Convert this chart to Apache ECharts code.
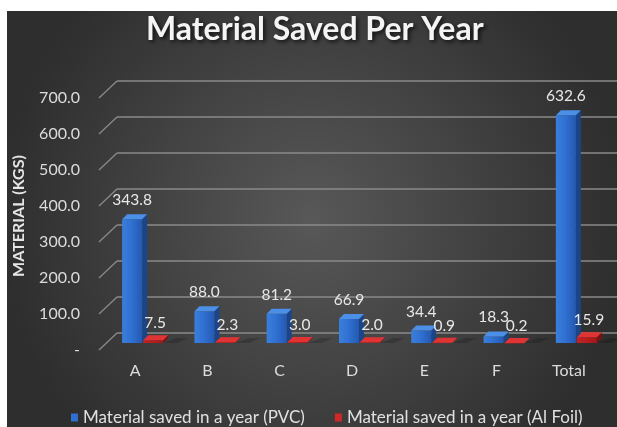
<!DOCTYPE html>
<html>
<head>
<meta charset="utf-8">
<script src="https://cdn.jsdelivr.net/npm/echarts@6/dist/echarts.min.js"></script>
<style>
html,body{margin:0;padding:0;background:#ffffff;}
#chart{width:617px;height:427px;}
</style>
</head>
<body>
<div id="chart"></div>
<script>
const categories = ['A', 'B', 'C', 'D', 'E', 'F', 'Total'];
const pvcValues = [343.8, 88.0, 81.2, 66.9, 34.4, 18.3, 632.6];
const foilValues = [7.5, 2.3, 3.0, 2.0, 0.9, 0.2, 15.9];
const yTicks = [0, 100, 200, 300, 400, 500, 600, 700];
const seriesNames = ['Material saved in a year (PVC)', 'Material saved in a year (Al Foil)'];

const FONT = 'Lato';
const WALL_DX = 18, WALL_DY = -17;   // front plane -> back wall
const BAR_DY = -7;                    // front plane -> bar plane
const DEPTH_DX = 5, DEPTH_DY = -5;    // bar depth

const chart = echarts.init(document.getElementById('chart'));

function makeBarRender(offset, colors, labelDx, labelDy) {
  return function (params, api) {
    const idx = api.value(0);
    const val = api.value(1);
    const base = api.coord([idx, 0]);
    const top = api.coord([idx, val]);
    const bw = api.size([1, 0])[0] * 0.277;
    const cx = base[0] + offset;
    const y0 = base[1] + BAR_DY;
    const y1 = top[1] + BAR_DY;
    const xl = cx - bw / 2, xr = cx + bw / 2;
    const children = [
      { type: 'polygon', shape: { points: [[xr + DEPTH_DX + 8, y0 + DEPTH_DY], [xr + DEPTH_DX + 20, y0 + DEPTH_DY], [xr + 14, y0], [xr, y0]] },
        style: { fill: 'rgba(0,0,0,0.18)' } },
      { type: 'polygon', shape: { points: [[xr, y1], [xr + DEPTH_DX, y1 + DEPTH_DY], [xr + DEPTH_DX, y0 + DEPTH_DY], [xr, y0]] },
        style: { fill: colors.side } },
      { type: 'rect', shape: { x: xl, y: y1, width: bw, height: Math.max(y0 - y1, 0.5) },
        style: { fill: new echarts.graphic.LinearGradient(0, 0, 1, 0, [
          { offset: 0, color: colors.front0 }, { offset: 0.5, color: colors.front1 }, { offset: 1, color: colors.front2 }]) } },
      { type: 'polygon', shape: { points: [[xl, y1], [xr, y1], [xr + DEPTH_DX, y1 + DEPTH_DY], [xl + DEPTH_DX, y1 + DEPTH_DY]] },
        style: { fill: colors.top } },
      { type: 'text', z2: 10, style: { x: cx + labelDx, y: y1 + labelDy, text: val.toFixed(1), align: 'center', verticalAlign: 'middle',
        fill: '#e8e8e8', font: '15.5px ' + FONT } }
    ];
    return { type: 'group', children: children };
  };
}

const option = {
  animation: false,
  backgroundColor: 'transparent',
  graphic: [{
    type: 'rect', z: -10, silent: true,
    shape: { x: 7, y: 11, width: 610, height: 416 },
    style: { fill: new echarts.graphic.RadialGradient(0.5, 0.5, 0.75, [
      { offset: 0, color: '#585858' }, { offset: 1, color: '#2e2e2e' }]) }
  }],
  title: {
    text: 'Material Saved Per Year',
    left: 146,
    top: 14,
    padding: 0,
    textStyle: {
      color: '#f4f4f4', fontFamily: FONT, fontWeight: 'bold', fontSize: 32,
      textShadowColor: 'rgba(0,0,0,0.75)', textShadowBlur: 4, textShadowOffsetX: 2, textShadowOffsetY: 2
    }
  },
  legend: {
    data: seriesNames,
    left: 71,
    top: 409,
    padding: 0,
    icon: 'rect',
    itemWidth: 7,
    itemHeight: 8,
    itemGap: 30,
    textStyle: { color: '#e0e0e0', fontFamily: FONT, fontSize: 17 }
  },
  grid: { left: 99, right: 12, top: 98, bottom: 77 },
  xAxis: {
    type: 'category',
    data: categories,
    axisLine: { show: false },
    axisTick: { show: false },
    axisLabel: { color: '#dcdcdc', fontFamily: FONT, fontSize: 16, margin: 13 },
    splitLine: { show: false }
  },
  yAxis: {
    type: 'value',
    min: 0, max: 700, interval: 100,
    name: 'MATERIAL (KGS)',
    nameLocation: 'middle',
    nameRotate: 90,
    nameGap: 72,
    nameTextStyle: { color: '#e6e6e6', fontFamily: FONT, fontWeight: 'bold', fontSize: 16, padding: [0, 0, 0, 16] },
    axisLine: { show: false },
    axisTick: { show: false },
    splitLine: { show: false },
    axisLabel: {
      color: '#dcdcdc', fontFamily: FONT, fontSize: 16, margin: 19,
      formatter: function (v) { return v === 0 ? '-' : v.toFixed(1); }
    }
  },
  series: [
    {
      name: 'grid', type: 'custom', silent: true, z: 1,
      data: yTicks.map(function (v) { return [0, v]; }),
      renderItem: function (params, api) {
        const p = api.coord([0, api.value(1)]);
        const x0 = params.coordSys.x;
        const y = p[1];
        return { type: 'group', children: [
          { type: 'line', shape: { x1: x0, y1: y, x2: x0 + WALL_DX, y2: y + WALL_DY }, style: { stroke: '#8a8a8a', lineWidth: 1.3 } },
          { type: 'line', shape: { x1: x0 + WALL_DX, y1: y + WALL_DY, x2: 617, y2: y + WALL_DY }, style: { stroke: '#8a8a8a', lineWidth: 1.3 } }
        ] };
      }
    },
    {
      name: seriesNames[0], type: 'custom', z: 2,
      itemStyle: { color: '#2f6fd0' },
      data: pvcValues.map(function (v, i) { return [i, v]; }),
      renderItem: makeBarRender(-3, { front0: '#3a7fdc', front1: '#2f6fd0', front2: '#2459b0', side: '#1b4588', top: '#4b8fe6' }, 0, -19)
    },
    {
      name: seriesNames[1], type: 'custom', z: 3,
      itemStyle: { color: '#d02828' },
      data: foilValues.map(function (v, i) { return [i, v]; }),
      renderItem: makeBarRender(18, { front0: '#c42222', front1: '#b81d1d', front2: '#a01818', side: '#7a1212', top: '#e03434' }, 2, -17)
    }
  ]
};
chart.setOption(option);
</script>
</body>
</html>
